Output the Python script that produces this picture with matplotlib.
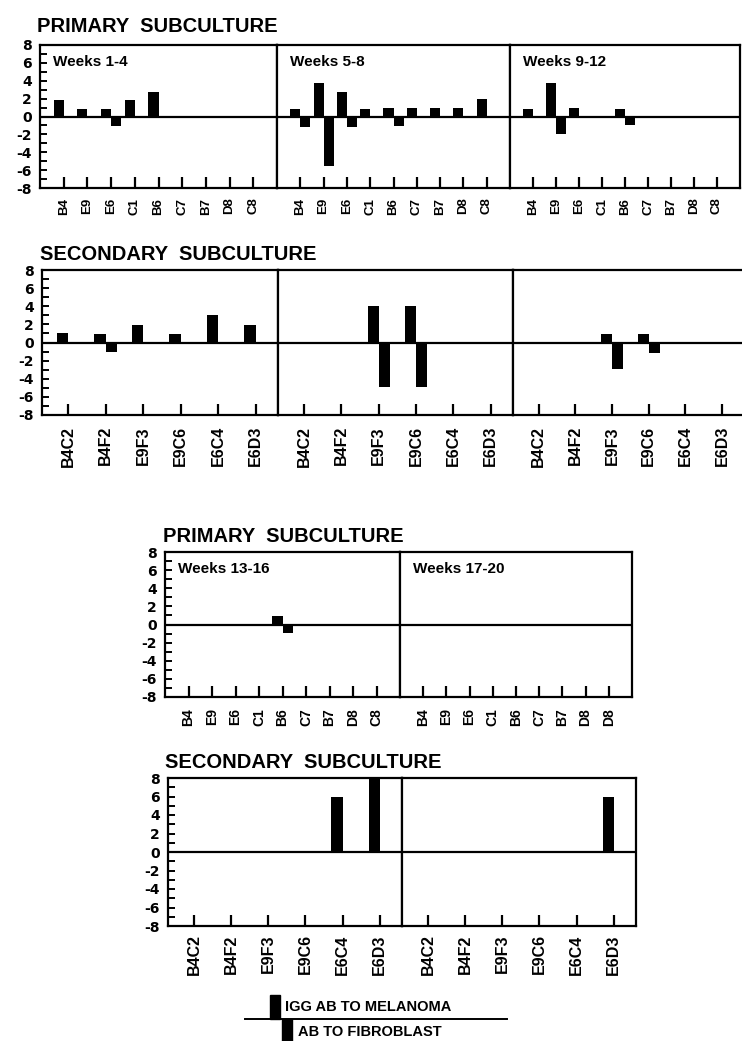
import matplotlib
matplotlib.use("Agg")
import matplotlib.pyplot as plt
from matplotlib.patches import Rectangle
from matplotlib.lines import Line2D

plt.rcParams['font.family'] = ['Liberation Sans', 'DejaVu Sans']
plt.rcParams['font.weight'] = 'bold'

# ---------------- data ----------------
primary_labels = ['B4', 'E9', 'E6', 'C1', 'B6', 'C7', 'B7', 'D8', 'C8']
primary_labels_17_20 = ['B4', 'E9', 'E6', 'C1', 'B6', 'C7', 'B7', 'D8', 'D8']
secondary_labels = ['B4C2', 'B4F2', 'E9F3', 'E9C6', 'E6C4', 'E6D3']

y_tick_values = [8, 6, 4, 2, 0, -2, -4, -6, -8]
y_tick_labels = ['8', '6', '4', '2', '0', '-2', '-4', '-6', '-8']

week_titles_top = ['Weeks 1-4', 'Weeks 5-8', 'Weeks 9-12']
week_titles_bottom = ['Weeks 13-16', 'Weeks 17-20']

# primary subculture: IgG Ab to melanoma (up) / Ab to fibroblast (down)
prim_mel_1_4 = [1.9, 0.8, 0.8, 1.8, 2.7, 0, 0, 0, 0]
prim_fib_1_4 = [0, 0, -1.1, 0, 0, 0, 0, 0, 0]
prim_mel_5_8 = [0.8, 3.8, 2.7, 0.8, 0.9, 0.9, 0.9, 0.9, 2.0]
prim_fib_5_8 = [-1.2, -5.5, -1.2, 0, -1.1, 0, 0, 0, 0]
prim_mel_9_12 = [0.8, 3.8, 0.9, 0, 0.8, 0, 0, 0, 0]
prim_fib_9_12 = [0, -2.0, 0, 0, -1.0, 0, 0, 0, 0]
prim_mel_13_16 = [0, 0, 0, 0, 0.9, 0, 0, 0, 0]
prim_fib_13_16 = [0, 0, 0, 0, -0.9, 0, 0, 0, 0]
prim_mel_17_20 = [0, 0, 0, 0, 0, 0, 0, 0, 0]
prim_fib_17_20 = [0, 0, 0, 0, 0, 0, 0, 0, 0]

# secondary subculture
sec_mel_1_4 = [1.0, 0.9, 1.9, 0.9, 3.0, 1.9]
sec_fib_1_4 = [0, -1.1, 0, 0, 0, 0]
sec_mel_5_8 = [0, 0, 4.0, 4.0, 0, 0]
sec_fib_5_8 = [0, 0, -4.9, -4.9, 0, 0]
sec_mel_9_12 = [0, 0, 0.9, 0.9, 0, 0]
sec_fib_9_12 = [0, 0, -2.9, -1.2, 0, 0]
sec_mel_13_16 = [0, 0, 0, 0, 6.0, 8.0]
sec_fib_13_16 = [0, 0, 0, 0, 0, 0]
sec_mel_17_20 = [0, 0, 0, 0, 0, 6.0]
sec_fib_17_20 = [0, 0, 0, 0, 0, 0]

# ---------------- figure ----------------
W, H = 742, 1041
fig = plt.figure(figsize=(W / 100, H / 100), dpi=100)
fig.patch.set_facecolor('white')


def add_panel(x0, x1, top, bottom):
    return fig.add_axes([x0 / W, 1 - bottom / H, (x1 - x0) / W, (bottom - top) / H])


def draw_panel(ax, labels, mel, fib, kind, first, label_size, week=None,
               hide_right=False, label_pad=6):
    n = len(labels)
    pos = list(range(1, n + 1))
    if kind == 'primary':
        w = 0.43
        ax.set_xlim(0, 10)
    else:
        w = 0.30
        ax.set_xlim(0.3, 6.6)
    ax.bar(pos, mel, width=-w, align='edge', color='black', edgecolor='black', linewidth=0)
    ax.bar(pos, fib, width=w, align='edge', color='black', edgecolor='black', linewidth=0)
    ax.axhline(0, color='black', lw=1.6, zorder=3)
    ax.set_ylim(-8, 8)
    ax.set_xticks(pos)
    ax.set_xticklabels(labels, rotation=90, fontsize=label_size, fontweight='bold',
                       va='top')
    ax.tick_params(axis='x', direction='in', length=8, width=1.6, pad=label_pad,
                   top=False)
    if first:
        ax.set_yticks(y_tick_values)
        ax.set_yticklabels(y_tick_labels, fontsize=10, fontweight='bold',
                           family=['DejaVu Sans'])
        ax.set_yticks(range(-7, 8, 2), minor=True)
        ax.tick_params(axis='y', which='both', direction='in', length=5, width=1.4, pad=6)
    else:
        ax.set_yticks([])
    for s in ax.spines.values():
        s.set_linewidth(1.6)
    if hide_right:
        ax.spines['right'].set_visible(False)
    if week is not None:
        ax.text(13 / ax.bbox.width, 0.88, week, transform=ax.transAxes,
                fontsize=11, fontweight='bold', ha='left', va='center')


# Row 1: primary, weeks 1-12
fig.text(37 / W, 1 - 26 / H, 'PRIMARY  SUBCULTURE', fontsize=14.5, fontweight='bold',
         ha='left', va='center')
row1 = [(40, 277), (277, 510), (510, 740)]
mels = [prim_mel_1_4, prim_mel_5_8, prim_mel_9_12]
fibs = [prim_fib_1_4, prim_fib_5_8, prim_fib_9_12]
for i, (x0, x1) in enumerate(row1):
    ax = add_panel(x0, x1, 45, 188)
    draw_panel(ax, primary_labels, mels[i], fibs[i], 'primary', i == 0, 9.5,
               week=week_titles_top[i], label_pad=7)

# Row 2: secondary, weeks 1-12
fig.text(40 / W, 1 - 255 / H, 'SECONDARY  SUBCULTURE', fontsize=14.5, fontweight='bold',
         ha='left', va='center')
row2 = [(42, 278), (278, 513), (513, 744)]
mels = [sec_mel_1_4, sec_mel_5_8, sec_mel_9_12]
fibs = [sec_fib_1_4, sec_fib_5_8, sec_fib_9_12]
for i, (x0, x1) in enumerate(row2):
    ax = add_panel(x0, x1, 270, 415)
    draw_panel(ax, secondary_labels, mels[i], fibs[i], 'secondary', i == 0, 11.5,
               hide_right=(i == 2), label_pad=8)

# Row 3: primary, weeks 13-20
fig.text(163 / W, 1 - 536 / H, 'PRIMARY  SUBCULTURE', fontsize=14.5, fontweight='bold',
         ha='left', va='center')
row3 = [(165, 400), (400, 632)]
mels = [prim_mel_13_16, prim_mel_17_20]
fibs = [prim_fib_13_16, prim_fib_17_20]
labs = [primary_labels, primary_labels_17_20]
for i, (x0, x1) in enumerate(row3):
    ax = add_panel(x0, x1, 552, 697)
    draw_panel(ax, labs[i], mels[i], fibs[i], 'primary', i == 0, 10,
               week=week_titles_bottom[i], label_pad=8)

# Row 4: secondary, weeks 13-20
fig.text(165 / W, 1 - 762 / H, 'SECONDARY  SUBCULTURE', fontsize=14.5, fontweight='bold',
         ha='left', va='center')
row4 = [(168, 402), (402, 636)]
mels = [sec_mel_13_16, sec_mel_17_20]
fibs = [sec_fib_13_16, sec_fib_17_20]
for i, (x0, x1) in enumerate(row4):
    ax = add_panel(x0, x1, 778, 926)
    draw_panel(ax, secondary_labels, mels[i], fibs[i], 'secondary', i == 0, 11.5,
               label_pad=6)

# Legend key
fig.add_artist(Line2D([245 / W, 507 / W], [1 - 1019 / H, 1 - 1019 / H],
                      color='black', lw=1.4, transform=fig.transFigure))
fig.add_artist(Rectangle((270 / W, 1 - 1019 / H), 10 / W, 24 / H,
                         color='black', transform=fig.transFigure))
fig.add_artist(Rectangle((282 / W, 1 - 1041 / H), 10 / W, 22 / H,
                         color='black', transform=fig.transFigure))
fig.text(285 / W, 1 - 1007 / H, 'IGG AB TO MELANOMA', fontsize=10.5, fontweight='bold',
         ha='left', va='center')
fig.text(298 / W, 1 - 1032 / H, 'AB TO FIBROBLAST', fontsize=10.5, fontweight='bold',
         ha='left', va='center')

fig.savefig('out.png', dpi=100, facecolor='white')
